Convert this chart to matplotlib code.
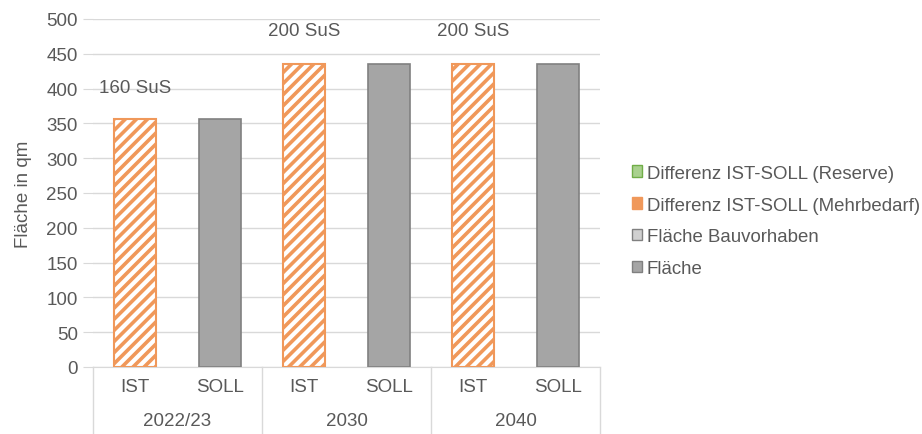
import matplotlib.pyplot as plt
from matplotlib.patches import Patch
import numpy as np

plt.rcParams['font.family'] = ['Liberation Sans', 'DejaVu Sans']
plt.rcParams['hatch.linewidth'] = 2.6

years = ['2022/23', '2030', '2040']
sub = ['IST', 'SOLL']
ist_mehrbedarf = [356, 435, 435]
soll_flaeche = [356, 435, 435]
sus_labels = ['160 SuS', '200 SuS', '200 SuS']
sus_y = [402, 484, 484]

txt = '#595959'
orange = '#F0985A'
grey = '#A5A5A5'
grid = '#D9D9D9'
fs = 13.5

fig = plt.figure(figsize=(9.22, 4.35), dpi=100)
ax = fig.add_axes([93 / 922, 67 / 435, 507 / 922, 348 / 435])

x = np.arange(len(years))
w = 0.25
ax.bar(x - 0.25, ist_mehrbedarf, w, color='white', edgecolor=orange,
       hatch='///', linewidth=1.5, zorder=3)
ax.bar(x + 0.25, soll_flaeche, w, color=grey, edgecolor='#808080',
       linewidth=1.2, zorder=3)

for i, (lab, yv) in enumerate(zip(sus_labels, sus_y)):
    ax.text(x[i] - 0.25, yv, lab, ha='center', va='center', fontsize=fs, color=txt)

ax.set_xlim(-0.5, 2.5)
ax.set_ylim(0, 500)
ax.set_yticks(range(0, 501, 50))
ax.yaxis.grid(True, color=grid, linewidth=1)
ax.set_axisbelow(True)
for s in ['top', 'right', 'left']:
    ax.spines[s].set_visible(False)
ax.spines['bottom'].set_color(grid)
ax.tick_params(axis='y', length=7, color=grid, labelsize=fs, labelcolor=txt, pad=4)
ax.set_xticks([])
ax.set_ylabel('Fläche in qm', fontsize=fs, color=txt, labelpad=10)

# category axis with two levels
yb = -67 / 348
for b in [-0.5, 0.5, 1.5, 2.5]:
    ax.plot([b, b], [0, yb], transform=ax.get_xaxis_transform(), color=grid,
            linewidth=1, clip_on=False)
for i, yr in enumerate(years):
    for j, s in enumerate(sub):
        ax.text(x[i] - 0.25 + 0.5 * j, -20 / 348, s, transform=ax.get_xaxis_transform(),
                ha='center', va='center', fontsize=fs, color=txt)
    ax.text(x[i], -54 / 348, yr, transform=ax.get_xaxis_transform(),
            ha='center', va='center', fontsize=fs, color=txt)

handles = [
    Patch(facecolor='#A9D18E', edgecolor='#70AD47', label='Differenz IST-SOLL (Reserve)'),
    Patch(facecolor=orange, edgecolor=orange, label='Differenz IST-SOLL (Mehrbedarf)'),
    Patch(facecolor='#D0D0D0', edgecolor='#808080', label='Fläche Bauvorhaben'),
    Patch(facecolor=grey, edgecolor='#808080', label='Fläche'),
]
leg = fig.legend(handles=handles, loc='center left', bbox_to_anchor=(615 / 922, 213 / 435),
                 frameon=False, fontsize=13.4, handlelength=0.55, handleheight=0.55,
                 handletextpad=0.25, labelspacing=0.8)
for t in leg.get_texts():
    t.set_color(txt)

fig.savefig('out.png', dpi=100)
